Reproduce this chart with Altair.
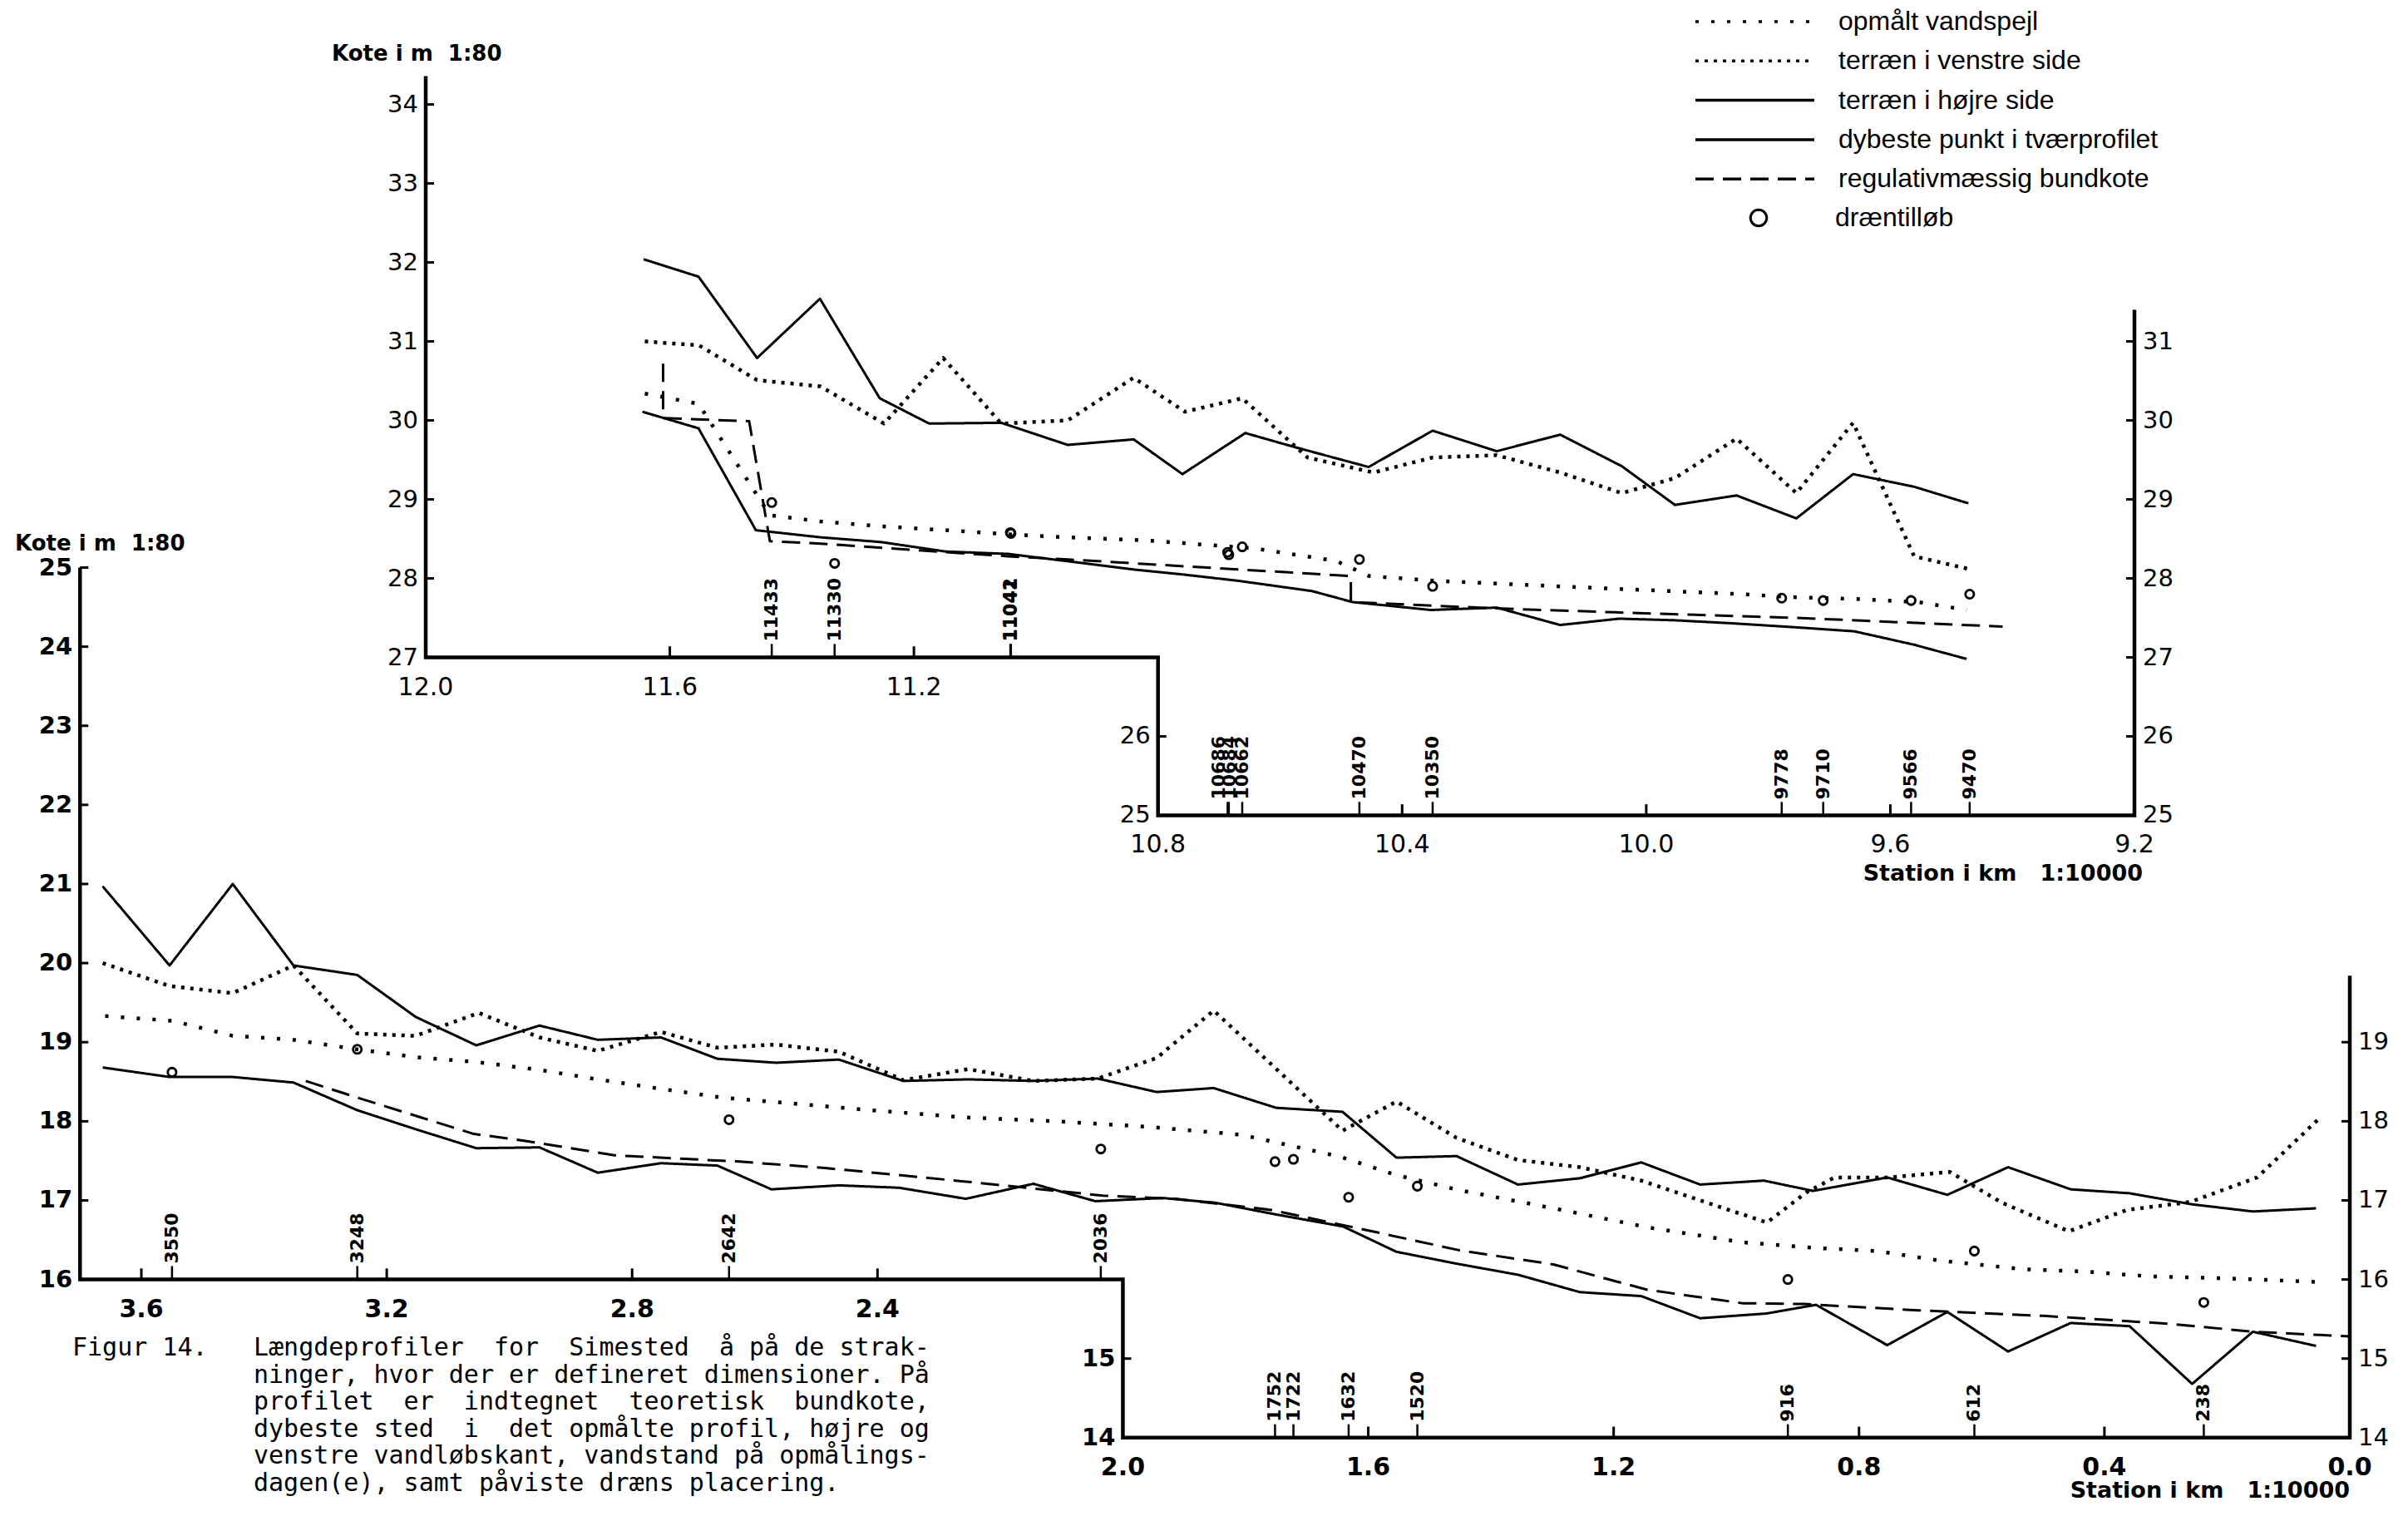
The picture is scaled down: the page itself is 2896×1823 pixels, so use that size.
import altair as alt
import pandas as pd

W, H = 2870, 1800     # plot area (page minus margins)
M = 8                 # page margin of the embed
NB = "\u00a0"         # non-breaking space keeps the wide gaps of the original typing

# ------------------------------------------------------------------
# DATA  (station in km, kote in m)
# ------------------------------------------------------------------
SERIES = ["opmålt vandspejl", "terræn i venstre side", "terræn i højre side",
          "dybeste punkt i tværprofilet", "regulativmæssig bundkote"]
DRAIN = "dræntilløb"

# ---- upper panel (12.0 - 9.2 km) ----
up_hojre_km = [11.643, 11.553, 11.457, 11.354, 11.256, 11.175, 11.057, 10.948, 10.840, 10.760, 10.657, 10.575,
               10.455, 10.350, 10.245, 10.141, 10.040, 9.953, 9.852, 9.754, 9.661, 9.561, 9.472]
up_hojre_kote = [32.04, 31.82, 30.79, 31.54, 30.28, 29.96, 29.97, 29.69, 29.76, 29.32, 29.84, 29.66,
                 29.41, 29.87, 29.61, 29.82, 29.42, 28.93, 29.05, 28.76, 29.32, 29.16, 28.95]
up_venstre_km = [11.641, 11.552, 11.457, 11.353, 11.249, 11.152, 11.057, 10.948, 10.840, 10.756, 10.662, 10.555,
                 10.447, 10.350, 10.245, 10.141, 10.040, 9.953, 9.852, 9.754, 9.661, 9.561, 9.472]
up_venstre_kote = [31.00, 30.95, 30.51, 30.43, 29.96, 30.79, 29.96, 30.00, 30.54, 30.11, 30.28, 29.53,
                   29.34, 29.53, 29.56, 29.34, 29.08, 29.27, 29.77, 29.08, 29.97, 28.28, 28.12]
up_vand_km = [11.641, 11.553, 11.436, 11.353, 11.254, 11.148, 11.049, 10.950, 10.817, 10.642, 10.508, 10.454,
              10.346, 10.145, 9.964, 9.843, 9.754, 9.659, 9.554, 9.475]
up_vand_kote = [30.34, 30.21, 28.80, 28.72, 28.66, 28.61, 28.56, 28.52, 28.48, 28.38, 28.22, 28.03,
                27.97, 27.90, 27.84, 27.80, 27.76, 27.74, 27.70, 27.60]
up_dyb_km = [11.645, 11.553, 11.459, 11.353, 11.254, 11.148, 11.046, 10.951, 10.837, 10.760, 10.669, 10.548,
             10.481, 10.353, 10.245, 10.141, 10.044, 9.954, 9.856, 9.754, 9.659, 9.561, 9.475]
up_dyb_kote = [30.11, 29.90, 28.61, 28.52, 28.46, 28.34, 28.31, 28.22, 28.11, 28.05, 27.97, 27.84,
               27.70, 27.60, 27.63, 27.41, 27.49, 27.47, 27.43, 27.38, 27.33, 27.16, 26.98]
up_reg_km = [11.611, 11.611, 11.470, 11.436, 11.353, 11.046, 10.948, 10.484, 10.484, 10.245, 10.050, 9.754, 9.416]
up_reg_kote = [30.72, 30.03, 29.99, 28.47, 28.44, 28.28, 28.24, 28.03, 27.70, 27.62, 27.57, 27.50, 27.39]

up_dren_label = ["11433", "11330", "11042", "11041", "10686", "10684", "10662", "10470", "10350",
                 "9778", "9710", "9566", "9470"]
up_dren_km = [11.433, 11.330, 11.042, 11.041, 10.686, 10.684, 10.662, 10.470, 10.350, 9.778, 9.710, 9.566, 9.470]
up_dren_label_km = [11.433, 11.330, 11.042, 11.041, 10.700, 10.683, 10.662, 10.470, 10.350,
                    9.778, 9.710, 9.566, 9.470]
up_dren_kote = [28.96, 28.19, 28.58, 28.57, 28.33, 28.30, 28.40, 28.24, 27.90, 27.75, 27.72, 27.72, 27.80]

# ---- lower panel (3.7 - 0.0 km) ----
lo_hojre_km = [3.663, 3.554, 3.451, 3.352, 3.248, 3.153, 3.054, 2.951, 2.856, 2.753, 2.661, 2.565, 2.463,
               2.358, 2.252, 2.146, 2.041, 1.945, 1.852, 1.750, 1.642, 1.554, 1.456, 1.356, 1.255, 1.155,
               1.059, 0.955, 0.875, 0.754, 0.656, 0.557, 0.455, 0.359, 0.257, 0.158, 0.055]
lo_hojre_kote = [20.97, 19.97, 21.00, 19.97, 19.85, 19.32, 18.96, 19.21, 19.03, 19.06, 18.79, 18.74, 18.78,
                 18.51, 18.53, 18.51, 18.54, 18.37, 18.42, 18.17, 18.12, 17.54, 17.56, 17.20, 17.28, 17.48,
                 17.20, 17.25, 17.12, 17.29, 17.07, 17.42, 17.14, 17.09, 16.95, 16.86, 16.90]
lo_venstre_km = [3.663, 3.554, 3.451, 3.352, 3.248, 3.153, 3.050, 2.951, 2.856, 2.753, 2.661, 2.565, 2.463,
                 2.358, 2.252, 2.146, 2.041, 1.945, 1.852, 1.642, 1.554, 1.456, 1.356, 1.255, 1.155, 1.059,
                 0.950, 0.886, 0.840, 0.751, 0.652, 0.567, 0.458, 0.363, 0.260, 0.151, 0.052]
lo_venstre_kote = [20.00, 19.71, 19.62, 19.97, 19.11, 19.08, 19.37, 19.06, 18.89, 19.13, 18.93, 18.97, 18.88,
                   18.52, 18.66, 18.51, 18.54, 18.80, 19.40, 17.88, 18.25, 17.79, 17.51, 17.42, 17.25, 17.00,
                   16.72, 17.10, 17.29, 17.29, 17.36, 16.97, 16.61, 16.88, 16.98, 17.29, 18.02]
lo_vand_km = [3.659, 3.549, 3.451, 3.352, 3.248, 3.153, 3.054, 2.951, 2.856, 2.753, 2.654, 2.561, 2.410,
              2.259, 2.109, 1.958, 1.807, 1.731, 1.645, 1.554, 1.452, 1.298, 1.145, 0.990, 0.874, 0.771,
              0.669, 0.533, 0.431, 0.328, 0.226, 0.151, 0.056]
lo_vand_kote = [19.33, 19.27, 19.08, 19.03, 18.91, 18.81, 18.75, 18.65, 18.53, 18.41, 18.30, 18.24, 18.14,
                18.05, 18.00, 17.93, 17.83, 17.70, 17.55, 17.32, 17.13, 16.90, 16.66, 16.47, 16.40, 16.36,
                16.24, 16.13, 16.10, 16.04, 16.02, 16.00, 15.97]
lo_dyb_km = [3.663, 3.554, 3.451, 3.352, 3.248, 3.153, 3.054, 2.951, 2.856, 2.753, 2.661, 2.573, 2.463,
             2.365, 2.256, 2.146, 2.045, 1.935, 1.849, 1.749, 1.641, 1.554, 1.456, 1.356, 1.255, 1.155,
             1.059, 0.951, 0.870, 0.754, 0.656, 0.557, 0.455, 0.359, 0.257, 0.158, 0.055]
lo_dyb_kote = [18.68, 18.56, 18.56, 18.49, 18.14, 17.90, 17.66, 17.67, 17.35, 17.47, 17.44, 17.14, 17.19,
               17.16, 17.02, 17.21, 16.99, 17.03, 16.97, 16.82, 16.67, 16.35, 16.20, 16.06, 15.84, 15.79,
               15.51, 15.57, 15.68, 15.17, 15.59, 15.09, 15.45, 15.41, 14.68, 15.34, 15.16]
lo_reg_km = [3.332, 3.248, 3.058, 2.981, 2.829, 2.625, 2.486, 2.259, 2.033, 1.914, 1.759, 1.606, 1.452,
             1.298, 1.145, 0.990, 0.890, 0.703, 0.499, 0.294, 0.158, 0.0]
lo_reg_kote = [18.51, 18.30, 17.84, 17.76, 17.57, 17.49, 17.41, 17.24, 17.06, 17.02, 16.88, 16.63, 16.37,
               16.19, 15.87, 15.70, 15.69, 15.61, 15.54, 15.44, 15.34, 15.28]

lo_dren_label = ["3550", "3248", "2642", "2036", "1752", "1722", "1632", "1520", "916", "612", "238"]
lo_dren_km = [3.550, 3.248, 2.642, 2.036, 1.752, 1.722, 1.632, 1.520, 0.916, 0.612, 0.238]
lo_dren_label_km = lo_dren_km
lo_dren_kote = [18.62, 18.91, 18.02, 17.65, 17.49, 17.52, 17.04, 17.18, 16.00, 16.36, 15.71]

# ---- axes (ticks and labels) ----
UP_FRAME_KM = [12.0, 12.0, 10.8, 10.8, 9.2, 9.2]
UP_FRAME_KOTE = [34.36, 27.0, 27.0, 25.0, 25.0, 31.4]
UP_LEFT_TICKS = [27, 28, 29, 30, 31, 32, 33, 34]
UP_STEP_TICKS = [25, 26]
UP_RIGHT_TICKS = [25, 26, 27, 28, 29, 30, 31]
UP_KM_HIGH = [12.0, 11.6, 11.2]
UP_KM_LOW = [10.8, 10.4, 10.0, 9.6, 9.2]

LO_FRAME_KM = [3.7, 3.7, 2.0, 2.0, 0.0, 0.0]
LO_FRAME_KOTE = [25.0, 16.0, 16.0, 14.0, 14.0, 19.84]
LO_LEFT_TICKS = [16, 17, 18, 19, 20, 21, 22, 23, 24, 25]
LO_STEP_TICKS = [14, 15]
LO_RIGHT_TICKS = [14, 15, 16, 17, 18, 19]
LO_KM_HIGH = [3.6, 3.2, 2.8, 2.4]
LO_KM_LOW = [2.0, 1.6, 1.2, 0.8, 0.4, 0.0]

Y_TITLE = "Kote i m  1:80"
X_TITLE = "Station i km   1:10000"
FIG_LABEL = "Figur 14."
CAPTION = ["Længdeprofiler  for  Simested  å på de strak-",
           "ninger, hvor der er defineret dimensioner. På",
           "profilet  er  indtegnet  teoretisk  bundkote,",
           "dybeste sted  i  det opmålte profil, højre og",
           "venstre vandløbskant, vandstand på opmålings-",
           "dagen(e), samt påviste dræns placering."]

# ------------------------------------------------------------------
# layout / style
# ------------------------------------------------------------------
DASHES = [[4, 15], [4, 7], [1, 0], [1, 0], [22, 11]]
AX_FONT = "DejaVu Sans"
LEG_FONT = "Liberation Sans Narrow, Liberation Sans, Arial, sans-serif"
TICK_KM = 0.0136     # y-tick length (in km along x)
TICK_M = 0.14        # x-tick length (in m along y)
ST_TICK_M = 0.17     # station tick length


def keep_spaces(s):
    return s.replace(" ", NB)


dash_scale = alt.Scale(domain=SERIES, range=DASHES)
DASH_LEGEND = alt.Legend(orient="none", legendX=2029, legendY=1, title=None,
                         labelFont=LEG_FONT, labelFontSize=32, labelColor="black", labelLimit=2000,
                         symbolType="stroke", symbolSize=143 ** 2, symbolStrokeWidth=3.5,
                         symbolStrokeColor="black", clipHeight=34, rowPadding=13.3, labelOffset=27,
                         padding=0)
shape_scale = alt.Scale(domain=[DRAIN], range=["circle"])
SHAPE_LEGEND = alt.Legend(orient="none", legendX=2091, legendY=237, title=None,
                          labelFont=LEG_FONT, labelFontSize=32, labelColor="black", labelLimit=2000,
                          symbolType="circle", symbolSize=380, symbolStrokeWidth=3,
                          symbolStrokeColor="black", symbolFillColor="white",
                          clipHeight=34, labelOffset=76, padding=0)


def lin(v1, p1, v2, p2, p):
    return v1 + (p - p1) * (v2 - v1) / (p2 - p1)


def series_df(items):
    rows = []
    for name, kms, kotes in items:
        for i, (k, v) in enumerate(zip(kms, kotes)):
            rows.append({"km": k, "kote": v, "serie": name, "i": i})
    return pd.DataFrame(rows)


def panel(P):
    xa = (P["xa"][0], P["xa"][1] - M, P["xa"][2], P["xa"][3] - M)
    ya = (P["ya"][0], P["ya"][1] - M, P["ya"][2], P["ya"][3] - M)
    xdom = sorted([lin(*xa, 0), lin(*xa, W)])
    ydom = [lin(*ya, H), lin(*ya, 0)]
    xs = alt.Scale(domain=xdom, reverse=True, nice=False, zero=False)
    ys = alt.Scale(domain=ydom, nice=False, zero=False)

    def X(f):
        return alt.X(f"{f}:Q", scale=xs, axis=None)

    def Y(f):
        return alt.Y(f"{f}:Q", scale=ys, axis=None)

    layers = []
    bold = "bold" if P["bold"] else "normal"

    # axis frame (left axis, stepped base line, right axis)
    frame = pd.DataFrame({"km": P["frame_km"], "kote": P["frame_kote"], "i": range(len(P["frame_km"]))})
    layers.append(alt.Chart(frame).mark_line(color="black", strokeWidth=4.5, strokeJoin="miter")
                  .encode(x=X("km"), y=Y("kote"), order="i:Q"))

    # y ticks + labels
    fk = P["frame_km"]
    yt = []
    for t in P["left_ticks"]:
        yt.append({"km": fk[0], "km2": fk[0] - TICK_KM, "kote": t, "lab": str(t), "side": "L"})
    for t in P["step_ticks"]:
        yt.append({"km": fk[2], "km2": fk[2] - TICK_KM, "kote": t, "lab": str(t), "side": "L"})
    for t in P["right_ticks"]:
        yt.append({"km": fk[4], "km2": fk[4] + TICK_KM, "kote": t, "lab": str(t), "side": "R"})
    ytdf = pd.DataFrame(yt)
    layers.append(alt.Chart(ytdf).mark_rule(color="black", strokeWidth=3)
                  .encode(x=X("km"), x2=alt.X2("km2:Q"), y=Y("kote")))
    layers.append(alt.Chart(ytdf[ytdf.side == "L"]).mark_text(
        align="right", baseline="middle", dx=-9, font=AX_FONT, fontSize=29, fontWeight=bold, color="black")
        .encode(x=X("km"), y=Y("kote"), text="lab:N"))
    layers.append(alt.Chart(ytdf[ytdf.side == "R"]).mark_text(
        align="left", baseline="middle", dx=10, font=AX_FONT, fontSize=29, color="black")
        .encode(x=X("km"), y=Y("kote"), text="lab:N"))

    # x ticks + labels
    corners = {fk[0], fk[2], fk[4]}
    xt = []
    for k in P["km_high"]:
        xt.append({"km": k, "base": P["frame_kote"][1], "lab": f"{k:.1f}"})
    for k in P["km_low"]:
        xt.append({"km": k, "base": P["frame_kote"][3], "lab": f"{k:.1f}"})
    xtdf = pd.DataFrame(xt)
    xtdf["top"] = xtdf["base"] + TICK_M
    ticks_only = xtdf[~xtdf.km.isin(corners)]
    layers.append(alt.Chart(ticks_only).mark_rule(color="black", strokeWidth=3)
                  .encode(x=X("km"), y=Y("base"), y2=alt.Y2("top:Q")))
    layers.append(alt.Chart(xtdf).mark_text(
        align="center", baseline="top", dy=21, font=AX_FONT, fontSize=30, fontWeight=bold, color="black")
        .encode(x=X("km"), y=Y("base"), text="lab:N"))

    # lines
    dotted = series_df([(SERIES[0], P["vand_km"], P["vand_kote"]),
                        (SERIES[1], P["venstre_km"], P["venstre_kote"])])
    solid = series_df([(SERIES[2], P["hojre_km"], P["hojre_kote"]),
                       (SERIES[3], P["dyb_km"], P["dyb_kote"]),
                       (SERIES[4], P["reg_km"], P["reg_kote"])])
    for df, w in [(solid, 3), (dotted, 4.5)]:
        layers.append(alt.Chart(df).mark_line(color="black", strokeWidth=w, strokeJoin="round")
                      .encode(x=X("km"), y=Y("kote"), order="i:Q",
                              strokeDash=alt.StrokeDash("serie:N", scale=dash_scale, legend=DASH_LEGEND)))

    # drains: circles, station ticks and rotated station labels
    base_hi, base_lo = P["frame_kote"][1], P["frame_kote"][3]
    dr = pd.DataFrame({"km": P["dren_km"], "lkm": P["dren_label_km"], "kote": P["dren_kote"],
                       "lab": P["dren_label"], "kind": DRAIN})
    dr["base"] = [base_hi if k > fk[2] else base_lo for k in dr.km]
    dr["top"] = dr["base"] + ST_TICK_M
    layers.append(alt.Chart(dr).mark_point(filled=False, color="black", size=105, strokeWidth=2.8, opacity=1)
                  .encode(x=X("km"), y=Y("kote"),
                          shape=alt.Shape("kind:N", scale=shape_scale, legend=SHAPE_LEGEND)))
    layers.append(alt.Chart(dr).mark_rule(color="black", strokeWidth=2.5)
                  .encode(x=X("km"), y=Y("base"), y2=alt.Y2("top:Q")))
    layers.append(alt.Chart(dr).mark_text(
        angle=270, align="left", baseline="middle", dx=19, font=AX_FONT, fontSize=22, fontWeight="bold",
        color="black").encode(x=X("lkm"), y=Y("base"), text="lab:N"))

    # axis titles
    tdf = pd.DataFrame({"t": [keep_spaces(Y_TITLE)]})
    layers.append(alt.Chart(tdf).mark_text(
        align="left", baseline="middle", font=AX_FONT, fontSize=26, fontWeight="bold", color="black")
        .encode(x=alt.value(P["ytitle"][0] - M), y=alt.value(P["ytitle"][1] - M), text="t:N"))
    sdf = pd.DataFrame({"t": [keep_spaces(X_TITLE)]})
    layers.append(alt.Chart(sdf).mark_text(
        align="right", baseline="middle", font=AX_FONT, fontSize=27, fontWeight="bold", color="black")
        .encode(x=alt.value(P["xtitle"][0] - M), y=alt.value(P["xtitle"][1] - M), text="t:N"))
    return alt.layer(*layers)


UPPER = dict(xa=(12.0, 512, 9.2, 2567), ya=(27, 790.5, 34, 125.6), bold=False,
             frame_km=UP_FRAME_KM, frame_kote=UP_FRAME_KOTE,
             left_ticks=UP_LEFT_TICKS, step_ticks=UP_STEP_TICKS, right_ticks=UP_RIGHT_TICKS,
             km_high=UP_KM_HIGH, km_low=UP_KM_LOW,
             hojre_km=up_hojre_km, hojre_kote=up_hojre_kote, venstre_km=up_venstre_km,
             venstre_kote=up_venstre_kote, vand_km=up_vand_km, vand_kote=up_vand_kote,
             dyb_km=up_dyb_km, dyb_kote=up_dyb_kote, reg_km=up_reg_km, reg_kote=up_reg_kote,
             dren_km=up_dren_km, dren_label_km=up_dren_label_km, dren_kote=up_dren_kote,
             dren_label=up_dren_label, ytitle=(399, 65), xtitle=(2577, 1051))
LOWER = dict(xa=(3.6, 170, 0.0, 2826), ya=(16, 1538.6, 25, 682.5), bold=True,
             frame_km=LO_FRAME_KM, frame_kote=LO_FRAME_KOTE,
             left_ticks=LO_LEFT_TICKS, step_ticks=LO_STEP_TICKS, right_ticks=LO_RIGHT_TICKS,
             km_high=LO_KM_HIGH, km_low=LO_KM_LOW,
             hojre_km=lo_hojre_km, hojre_kote=lo_hojre_kote, venstre_km=lo_venstre_km,
             venstre_kote=lo_venstre_kote, vand_km=lo_vand_km, vand_kote=lo_vand_kote,
             dyb_km=lo_dyb_km, dyb_kote=lo_dyb_kote, reg_km=lo_reg_km, reg_kote=lo_reg_kote,
             dren_km=lo_dren_km, dren_label_km=lo_dren_label_km, dren_kote=lo_dren_kote,
             dren_label=lo_dren_label, ytitle=(18, 654), xtitle=(2826, 1793))

# caption
CAP_TOP = 1606
cap_layers = [
    alt.Chart(pd.DataFrame({"t": [keep_spaces(FIG_LABEL)]})).mark_text(
        align="left", baseline="top", font="DejaVu Sans Mono", fontSize=30, color="black")
    .encode(x=alt.value(87 - M), y=alt.value(CAP_TOP - M), text="t:N"),
    alt.Chart(pd.DataFrame({"t": ["\n".join(keep_spaces(s) for s in CAPTION)]})).mark_text(
        align="left", baseline="top", font="DejaVu Sans Mono", fontSize=30, lineBreak="\n",
        lineHeight=32.5, color="black")
    .encode(x=alt.value(305 - M), y=alt.value(CAP_TOP - M), text="t:N"),
]

upper = alt.layer(panel(UPPER), *cap_layers)
lower = panel(LOWER)

chart = (alt.layer(upper, lower)
         .resolve_scale(x="independent", y="independent")
         .properties(width=W, height=H, autosize=alt.AutoSizeParams(type="none"), padding=0,
                     background="white")
         .configure_view(stroke=None))

chart.save("out.html", embed_options={"renderer": "svg", "actions": False})
